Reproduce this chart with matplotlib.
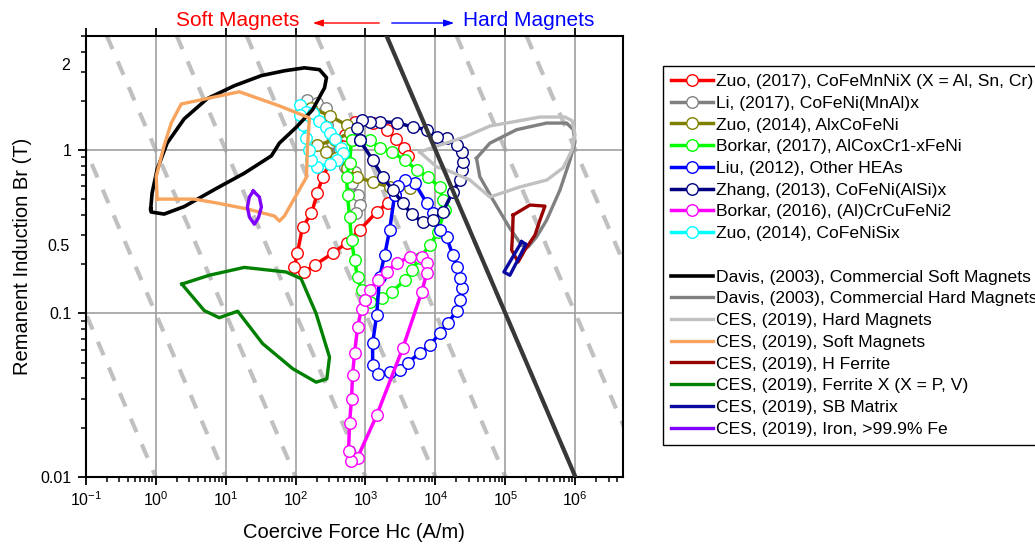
import matplotlib
matplotlib.use('Agg')
import matplotlib.pyplot as plt
from matplotlib.lines import Line2D
from matplotlib.ticker import LogLocator, NullFormatter, FixedLocator

plt.rcParams['font.family'] = ['Liberation Sans', 'DejaVu Sans']

# ---- HEA data: coercive force Hc (A/m), remanence Br (T) ----
zuo17_hc = [2073, 1443, 824, 536, 338, 187, 134, 96.4, 106, 126, 169, 206, 243, 361, 502, 698, 1265, 2005, 2700, 3514, 4009]
zuo17_br = [0.473, 0.417, 0.323, 0.269, 0.233, 0.197, 0.179, 0.191, 0.233, 0.337, 0.410, 0.545, 0.683, 0.932, 1.24, 1.49, 1.47, 1.33, 1.17, 1.03, 0.92]

li17_hc = [148, 206, 277, 286, 327, 373, 518, 698, 632, 770, 824, 722]
li17_br = [2.03, 1.94, 1.81, 1.42, 1.12, 0.869, 0.787, 0.733, 0.628, 0.530, 0.460, 0.410]

zuo14a_hc = [169, 306, 536, 592, 361, 206, 277, 385, 536, 745, 1265, 2213, 4285]
zuo14a_br = [1.81, 1.62, 1.42, 1.27, 1.15, 1.07, 0.972, 0.893, 0.776, 0.683, 0.637, 0.593, 0.585]

borkar17_hc = [632, 592, 536, 554, 592, 632, 698, 770, 880, 1145, 1700, 2365, 3630, 4580, 5960, 8280, 10790,
               13600, 12700, 11500, 7760, 5400, 3630, 2365, 1590, 1145, 632]
borkar17_br = [1.15, 0.832, 0.683, 0.530, 0.388, 0.281, 0.211, 0.166, 0.138, 0.117, 0.124, 0.135, 0.159, 0.184,
               0.217, 0.261, 0.314, 0.428, 0.493, 0.593, 0.683, 0.754, 0.869, 0.972, 1.03, 1.15, 1.15]

liu12_hc = [2610, 2213, 1880, 1590, 1443, 1265, 1265, 1490, 2213, 3076, 4009, 5960, 8280, 11530, 15000, 20200,
            22300, 23800, 22300, 20200, 17700, 14500, 11500, 9140, 7500, 5050, 3630, 2880, 2610]
liu12_br = [0.530, 0.323, 0.227, 0.166, 0.0972, 0.0655, 0.048, 0.0428, 0.0435, 0.0447, 0.050, 0.0569, 0.0637,
            0.0754, 0.0868, 0.104, 0.120, 0.142, 0.164, 0.191, 0.227, 0.292, 0.323, 0.410, 0.473, 0.628, 0.655,
            0.602, 0.530]

zhang13_hc = [823, 1265, 1757, 2443, 3400, 4570, 6580, 9140, 12700, 17700, 22300, 23800, 24600, 23800, 20200,
              14500, 10400, 7500, 4730, 2790, 1590, 1145, 880, 745, 823]
zhang13_br = [1.15, 0.869, 0.683, 0.569, 0.473, 0.405, 0.362, 0.372, 0.417, 0.553, 0.655, 0.754, 0.844, 0.972,
              1.07, 1.19, 1.20, 1.33, 1.38, 1.47, 1.49, 1.49, 1.53, 1.36, 1.15]

borkar16_hc = [971, 1145, 1490, 2005, 2786, 4285, 6370, 7500, 7500, 6370, 3400, 1443, 770, 612, 573, 592, 632,
               653, 698, 770, 880, 971]
borkar16_br = [0.120, 0.138, 0.159, 0.179, 0.203, 0.221, 0.221, 0.203, 0.176, 0.135, 0.061, 0.0237, 0.0131,
               0.0125, 0.0144, 0.0214, 0.0301, 0.0417, 0.0569, 0.082, 0.107, 0.120]

zuo14b_hc = [117, 139, 175, 220, 277, 306, 361, 440, 470, 398, 306, 206, 169, 158, 139, 126, 114]
zuo14b_br = [1.89, 1.71, 1.69, 1.51, 1.38, 1.27, 1.17, 1.03, 0.959, 0.869, 0.821, 0.787, 0.869, 1.00, 1.19, 1.42, 1.64]

# ---- property envelopes ----
davis_soft_hc = [0.85, 0.89, 1.05, 1.46, 2.56, 5.47, 13.3, 32.5, 69.3, 134, 220, 277, 260, 175, 103, 58.7, 45.2,
                 18.5, 7.6, 2.56, 1.32, 0.86, 0.85]
davis_soft_br = [0.435, 0.545, 0.76, 1.10, 1.55, 2.06, 2.47, 2.85, 3.05, 3.18, 3.10, 2.77, 2.40, 1.76, 1.38, 1.10,
                 0.92, 0.72, 0.585, 0.45, 0.405, 0.417, 0.435]

davis_hard_hc = [38650, 60000, 144500, 389000, 753000, 935000, 990000, 840000, 604000, 389000, 280000, 212000,
                 171000, 116000, 66800, 43100, 38650]
davis_hard_br = [0.889, 1.10, 1.33, 1.46, 1.46, 1.33, 1.12, 0.869, 0.569, 0.372, 0.294, 0.255, 0.261, 0.331,
                 0.493, 0.686, 0.889]

ces_hard_hc = [5960, 11530, 26300, 60000, 312000, 713000, 898000, 990000, 898000, 667000, 393000, 161000, 60000,
               31000, 14500, 10400, 5960]
ces_hard_br = [0.972, 1.07, 1.20, 1.40, 1.59, 1.59, 1.51, 1.24, 1.00, 0.776, 0.655, 0.593, 0.515, 0.655, 0.754,
               0.787, 0.972]

ces_soft_hc = [1.05, 1.02, 1.32, 1.67, 2.32, 15.7, 58.8, 158, 148, 143, 69.3, 58.8, 49.9, 20.5, 7.6, 3.56, 1.05]
ces_soft_br = [0.50, 0.69, 1.06, 1.46, 1.91, 2.27, 1.86, 1.57, 1.04, 0.68, 0.394, 0.367, 0.394, 0.435, 0.473,
               0.50, 0.50]

h_ferrite_hc = [129000, 224000, 368000, 312000, 265000, 190000, 152000, 123000, 127000, 129000]
h_ferrite_br = [0.399, 0.460, 0.453, 0.372, 0.301, 0.244, 0.206, 0.244, 0.315, 0.399]

ferrite_x_hc = [2.37, 5.84, 18.5, 73.3, 120, 197, 306, 280, 197, 91.2, 33.9, 14.9, 8.1, 4.95, 2.37]
ferrite_x_br = [0.151, 0.171, 0.191, 0.179, 0.163, 0.0996, 0.054, 0.0397, 0.0379, 0.0458, 0.0652, 0.103, 0.094,
                0.104, 0.151]

sb_matrix_hc = [171000, 197000, 116000, 95300, 171000]
sb_matrix_br = [0.274, 0.265, 0.171, 0.179, 0.274]

iron_hc = [24.9, 30.4, 32.5, 29.4, 25.8, 21.9, 20.5, 21.9, 24.9]
iron_br = [0.56, 0.515, 0.447, 0.383, 0.351, 0.388, 0.447, 0.515, 0.56]

# constant Br*Hc guide lines
bh_products = [1e-2, 1e-1, 1, 10, 100, 1e3, 1e4, 1e5, 1e6]
soft_hard_limit = 1e4

xmin, xmax = 0.1, 4.8e6
ymin, ymax = 0.01, 5.0

fig = plt.figure(figsize=(10.35, 5.47), dpi=100)
ax = fig.add_axes([0.0828, 0.1285, 0.5191, 0.8062])
ax.set_xscale('log')
ax.set_yscale('log')
ax.set_xlim(xmin, xmax)
ax.set_ylim(ymin, ymax)

# grid
ax.xaxis.set_major_locator(FixedLocator([1e-1, 1, 10, 100, 1e3, 1e4, 1e5, 1e6]))
ax.yaxis.set_major_locator(FixedLocator([0.01, 0.1, 1]))
ax.yaxis.set_minor_locator(LogLocator(base=10, subs=range(2, 10)))
ax.xaxis.set_minor_locator(LogLocator(base=10, subs=range(2, 10)))
ax.xaxis.set_minor_formatter(NullFormatter())
ax.yaxis.set_minor_formatter(NullFormatter())
ax.set_yticklabels(['0.01', '0.1', '1'])
ax.grid(True, which='major', color='#a0a0a0', linewidth=1.2, zorder=0)

for bh in bh_products:
    ax.plot([bh / ymax, bh / ymin], [ymax, ymin], color='#c0c0c0', lw=3, dashes=(3.5, 3.2), zorder=1)

ax.plot([soft_hard_limit / ymax, soft_hard_limit / ymin], [ymax, ymin], color='#383838', lw=3, zorder=6)

mk = dict(marker='o', markersize=8.3, markerfacecolor='white', markeredgewidth=1.0, lw=2.5, zorder=3)
h1, = ax.plot(zuo17_hc, zuo17_br, color='#ff0000', markeredgecolor='#ff0000', **mk)
h2, = ax.plot(li17_hc, li17_br, color='#808080', markeredgecolor='#808080', **mk)
h3, = ax.plot(zuo14a_hc, zuo14a_br, color='#808000', markeredgecolor='#808000', **mk)
h4, = ax.plot(borkar17_hc, borkar17_br, color='#00ff00', markeredgecolor='#00ff00', **mk)
h5, = ax.plot(liu12_hc, liu12_br, color='#0000ff', markeredgecolor='#0000ff', **mk)
h6, = ax.plot(zhang13_hc, zhang13_br, color='#000080', markeredgecolor='#000080', **mk)
h7, = ax.plot(borkar16_hc, borkar16_br, color='#ff00ff', markeredgecolor='#ff00ff', **mk)
h8, = ax.plot(zuo14b_hc, zuo14b_br, color='#00ffff', markeredgecolor='#00ffff', **mk)

g1, = ax.plot(davis_soft_hc, davis_soft_br, color='black', lw=2.6, zorder=4)
g2, = ax.plot(davis_hard_hc, davis_hard_br, color='#808080', lw=2.4, zorder=4)
g3, = ax.plot(ces_hard_hc, ces_hard_br, color='#c0c0c0', lw=2.4, zorder=4)
g4, = ax.plot(ces_soft_hc, ces_soft_br, color='#f8a35e', lw=2.4, zorder=4)
g5, = ax.plot(h_ferrite_hc, h_ferrite_br, color='#990000', lw=2.4, zorder=4)
g6, = ax.plot(ferrite_x_hc, ferrite_x_br, color='#008000', lw=2.4, zorder=4)
g7, = ax.plot(sb_matrix_hc, sb_matrix_br, color='#0a0aa0', lw=2.4, zorder=4)
g8, = ax.plot(iron_hc, iron_br, color='#8000ff', lw=2.4, zorder=4)

for s in ax.spines.values():
    s.set_linewidth(1.5)
ax.tick_params(which='major', direction='out', length=6, width=1.3, labelsize=11.5, pad=4)
ax.tick_params(which='minor', direction='out', length=3.5, width=1.1)
ax.tick_params(axis='x', which='major', top=True)

# extra y labels as in the original figure
ax.text(-0.03, 3.3, '2', transform=ax.get_yaxis_transform(), ha='right', va='center', fontsize=11.5)
ax.text(-0.03, 0.255, '0.5', transform=ax.get_yaxis_transform(), ha='right', va='center', fontsize=11.5)

ax.set_xlabel('Coercive Force Hc (A/m)', fontsize=14.5, labelpad=10)
ax.set_ylabel('Remanent Induction Br (T)', fontsize=14.5, labelpad=6)

# top annotations
fig.text(238 / 1035, 1 - 20 / 547, 'Soft Magnets', color='red', fontsize=15, ha='center', va='center')
fig.text(529 / 1035, 1 - 20 / 547, 'Hard Magnets', color='blue', fontsize=15, ha='center', va='center')
ax.annotate('', xy=(310 / 1035, 1 - 23 / 547), xytext=(382 / 1035, 1 - 23 / 547), xycoords='figure fraction',
            arrowprops=dict(arrowstyle='-|>,head_length=0.6,head_width=0.2', color='red', lw=1))
ax.annotate('', xy=(457 / 1035, 1 - 23 / 547), xytext=(389 / 1035, 1 - 23 / 547), xycoords='figure fraction',
            arrowprops=dict(arrowstyle='-|>,head_length=0.6,head_width=0.2', color='blue', lw=1))

blank = Line2D([], [], color='none')
handles = [h1, h2, h3, h4, h5, h6, h7, h8, blank, g1, g2, g3, g4, g5, g6, g7, g8]
labels = ['Zuo, (2017), CoFeMnNiX (X = Al, Sn, Cr)', 'Li, (2017), CoFeNi(MnAl)x', 'Zuo, (2014), AlxCoFeNi',
          'Borkar, (2017), AlCoxCr1-xFeNi', 'Liu, (2012), Other HEAs', 'Zhang, (2013), CoFeNi(AlSi)x',
          'Borkar, (2016), (Al)CrCuFeNi2', 'Zuo, (2014), CoFeNiSix', ' ',
          'Davis, (2003), Commercial Soft Magnets', 'Davis, (2003), Commercial Hard Magnets',
          'CES, (2019), Hard Magnets', 'CES, (2019), Soft Magnets', 'CES, (2019), H Ferrite',
          'CES, (2019), Ferrite X (X = P, V)', 'CES, (2019), SB Matrix', 'CES, (2019), Iron, >99.9% Fe']
leg = fig.legend(handles, labels, loc='upper left', bbox_to_anchor=(663 / 1035, 1 - 66 / 547),
                 fontsize=12.6, frameon=True, fancybox=False, edgecolor='black', framealpha=1,
                 borderpad=0.45, borderaxespad=0, handlelength=2.4, handletextpad=0.15, labelspacing=0.37)
leg.get_frame().set_linewidth(1.0)

fig.savefig('out.png', dpi=100)
